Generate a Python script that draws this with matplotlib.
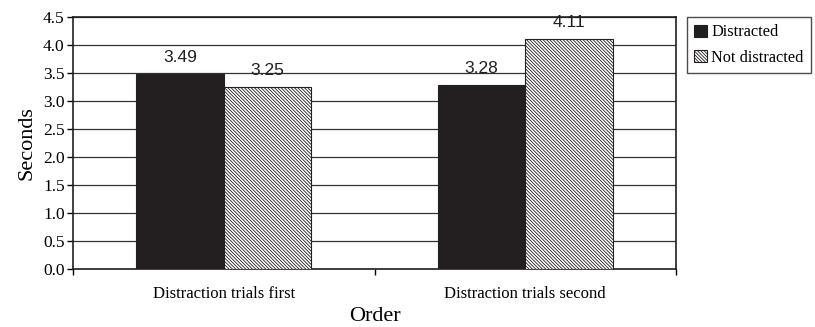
import numpy as np
import matplotlib
matplotlib.use("Agg")
import matplotlib.pyplot as plt

# ---- data ----
categories = ["Distraction trials first", "Distraction trials second"]
series_names = ["Distracted", "Not distracted"]
distracted = [3.49, 3.28]
not_distracted = [3.25, 4.11]
y_ticks = [0.0, 0.5, 1.0, 1.5, 2.0, 2.5, 3.0, 3.5, 4.0, 4.5]

plt.rcParams["hatch.linewidth"] = 0.6
plt.rcParams["hatch.color"] = "#231f20"

W, H = 815, 327
fig = plt.figure(figsize=(W / 100, H / 100), dpi=100)
ax = fig.add_axes([73 / W, 1 - 269 / H, (676 - 73) / W, (269 - 17) / H])

serif = "Liberation Serif"
sans = "Liberation Sans"

x = np.arange(len(categories))
bw = 0.29
b1 = ax.bar(x - bw / 2, distracted, bw, color="#231f20", edgecolor="#231f20",
            linewidth=0.8, label=series_names[0], zorder=3)
b2 = ax.bar(x + bw / 2, not_distracted, bw, color="white", edgecolor="#231f20",
            hatch="\\" * 10, linewidth=0.8, label=series_names[1], zorder=3)

for bars, vals in [(b1, distracted), (b2, not_distracted)]:
    for rect, v in zip(bars, vals):
        ax.annotate(f"{v:.2f}", (rect.get_x() + rect.get_width() / 2, v),
                    xytext=(0, 6.5), textcoords="offset points",
                    ha="center", va="bottom", fontsize=12.5, family=sans,
                    color="#231f20", zorder=4)

ax.set_xlim(-0.5, 1.5)
ax.set_ylim(0, 4.5)
ax.set_yticks(y_ticks)
ax.set_yticklabels([f"{t:.1f}" for t in y_ticks], family=serif, fontsize=12.5)
ax.yaxis.grid(True, color="#333333", linewidth=0.9, zorder=0)

ax.set_xticks([-0.5, 0.5, 1.5])
ax.set_xticklabels([])
ax.set_xticks(x, minor=True)
ax.set_xticklabels(categories, minor=True, family=serif, fontsize=12)
ax.tick_params(axis="x", which="minor", length=0, pad=12)
ax.tick_params(axis="x", which="major", direction="out", length=4, width=1)
ax.tick_params(axis="y", direction="out", length=4, width=1, pad=2)

for s in ax.spines.values():
    s.set_color("#231f20")
    s.set_linewidth(1.2)

ax.set_ylabel("Seconds", family=serif, fontsize=16, labelpad=5)
ax.set_xlabel("Order", family=serif, fontsize=16, labelpad=4)

leg = fig.legend(loc="upper left", bbox_to_anchor=(687 / W, 1 - 17 / H),
                 prop={"family": serif, "size": 11.7}, frameon=True,
                 fancybox=False, edgecolor="#231f20", handlelength=0.75,
                 handleheight=0.75, handletextpad=0.3, borderpad=0.45,
                 labelspacing=0.6, borderaxespad=0)
leg.get_frame().set_linewidth(1.0)

fig.savefig("out.png", dpi=100)
